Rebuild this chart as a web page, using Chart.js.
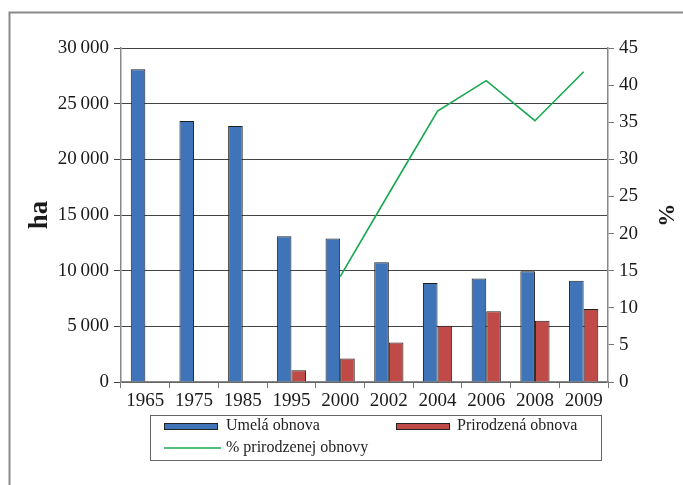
<!DOCTYPE html>
<html>
<head>
<meta charset="utf-8">
<script src="https://cdn.jsdelivr.net/npm/chart.js@4.4.1/dist/chart.umd.min.js"></script>
<style>
  html, body { margin:0; padding:0; background:#fff; }
  #wrap { position:relative; width:683px; height:485px; }
</style>
</head>
<body>
<div id="wrap"><canvas id="c" width="683" height="485"></canvas></div>
<script>
/* ---------- data ---------- */
const years      = ['1965','1975','1985','1995','2000','2002','2004','2006','2008','2009'];
const umela      = [28100, 23450, 23000, 13100, 12900, 10750, 8900, 9300, 9950, 9100];
const prirodzena = [null,  null,  null,  1050,  2100,  3550,  5050, 6350, 5500, 6550];
const pctPrir     = [null,  null,  null,  null,  14.2,  25.4,  36.5, 40.6, 35.2, 41.8];

const seriesNames = ['Umelá obnova', 'Prirodzená obnova', '% prirodzenej obnovy'];
const leftTitle  = 'ha';
const rightTitle = '%';

/* ---------- look ---------- */
const BLUE  = '#3f74b8';
const RED   = '#bf4a47';
const GREEN = '#17a84f';
const SERIF = "'Liberation Serif', 'Times New Roman', serif";
const tickFont = { family: SERIF, size: 19 };

const fmt = v => String(v).replace(/\B(?=(\d{3})+(?!\d))/g, '\u2009');

/* frame around the figure + boxed legend */
const decor = {
  id: 'decor',
  beforeDraw(chart){
    const ctx = chart.ctx;
    ctx.save();
    ctx.strokeStyle = '#8a8a8a';
    ctx.lineWidth = 2;
    ctx.beginPath();
    ctx.moveTo(9.5, 485); ctx.lineTo(9.5, 12.5); ctx.lineTo(683, 12.5);
    ctx.stroke();
    ctx.restore();
  },
  afterDraw(chart){
    const ctx = chart.ctx;
    ctx.save();
    ctx.strokeStyle = '#666';
    ctx.lineWidth = 1;
    ctx.strokeRect(150.5, 415.5, 451, 45);

    ctx.lineWidth = 1;
    ctx.strokeStyle = '#222';
    ctx.fillStyle = BLUE;  ctx.fillRect(164, 423, 54, 6);  ctx.strokeRect(164.5, 423.5, 53, 6);
    ctx.fillStyle = RED;   ctx.fillRect(396, 423, 54, 6);  ctx.strokeRect(396.5, 423.5, 53, 6);
    ctx.strokeStyle = GREEN; ctx.lineWidth = 1.5;
    ctx.beginPath(); ctx.moveTo(164, 448); ctx.lineTo(221, 448); ctx.stroke();

    ctx.fillStyle = '#222';
    ctx.font = "16px " + SERIF;
    ctx.textBaseline = 'middle';
    ctx.fillText(seriesNames[0], 226, 426);
    ctx.fillText(seriesNames[1], 457, 426);
    ctx.fillText(seriesNames[2], 226, 448);
    ctx.restore();
  }
};

new Chart(document.getElementById('c'), {
  data: {
    labels: years,
    datasets: [
      { type:'line', label: seriesNames[2], data: pctPrir, yAxisID:'yR',
        borderColor: GREEN, borderWidth: 1.6, pointRadius: 0, tension: 0, order: 0 },
      { type:'bar', label: seriesNames[0], data: umela, yAxisID:'yL',
        backgroundColor: BLUE, borderColor:'#1f1f1f', borderWidth: 1,
        categoryPercentage: 0.6, barPercentage: 1.0, order: 1 },
      { type:'bar', label: seriesNames[1], data: prirodzena, yAxisID:'yL',
        backgroundColor: RED, borderColor:'#1f1f1f', borderWidth: 1,
        categoryPercentage: 0.6, barPercentage: 1.0, order: 1 }
    ]
  },
  options: {
    responsive: false,
    animation: false,
    layout: { padding: { top: 48, left: 0, right: 0, bottom: 0 } },
    plugins: { legend: { display:false }, tooltip: { enabled:false } },
    scales: {
      x: {
        afterFit: s => { s.height = 103; },
        grid: { offset:true, drawOnChartArea:false, tickLength:6, color:'#777' },
        border: { color:'#888', width:1.5 },
        ticks: { font: tickFont, color:'#1a1a1a', padding: 2, maxRotation:0 }
      },
      yL: {
        position:'left', min:0, max:30000,
        afterFit: s => { s.width = 121; },
        grid: { color:'#444', lineWidth:1, tickLength:7 },
        border: { color:'#888', width:1.5 },
        ticks: { stepSize:5000, font: tickFont, color:'#1a1a1a', padding:5, callback: v => fmt(v) },
        title: { display:true, text:leftTitle, color:'#1a1a1a', padding:{ top:24, bottom:0 },
                 font:{ family:SERIF, size:27, weight:'bold' } }
      },
      yR: {
        position:'right', min:0, max:45,
        afterFit: s => { s.width = 75; },
        grid: { drawOnChartArea:false, color:'#777', tickLength:6 },
        border: { color:'#888', width:1.5 },
        ticks: { stepSize:5, font: tickFont, color:'#1a1a1a', padding:5 },
        title: { display:true, text:rightTitle, color:'#1a1a1a', padding:{ top:4, bottom:0 },
                 font:{ family:SERIF, size:23, weight:'bold' } }
      }
    }
  },
  plugins: [decor]
});
</script>
</body>
</html>
